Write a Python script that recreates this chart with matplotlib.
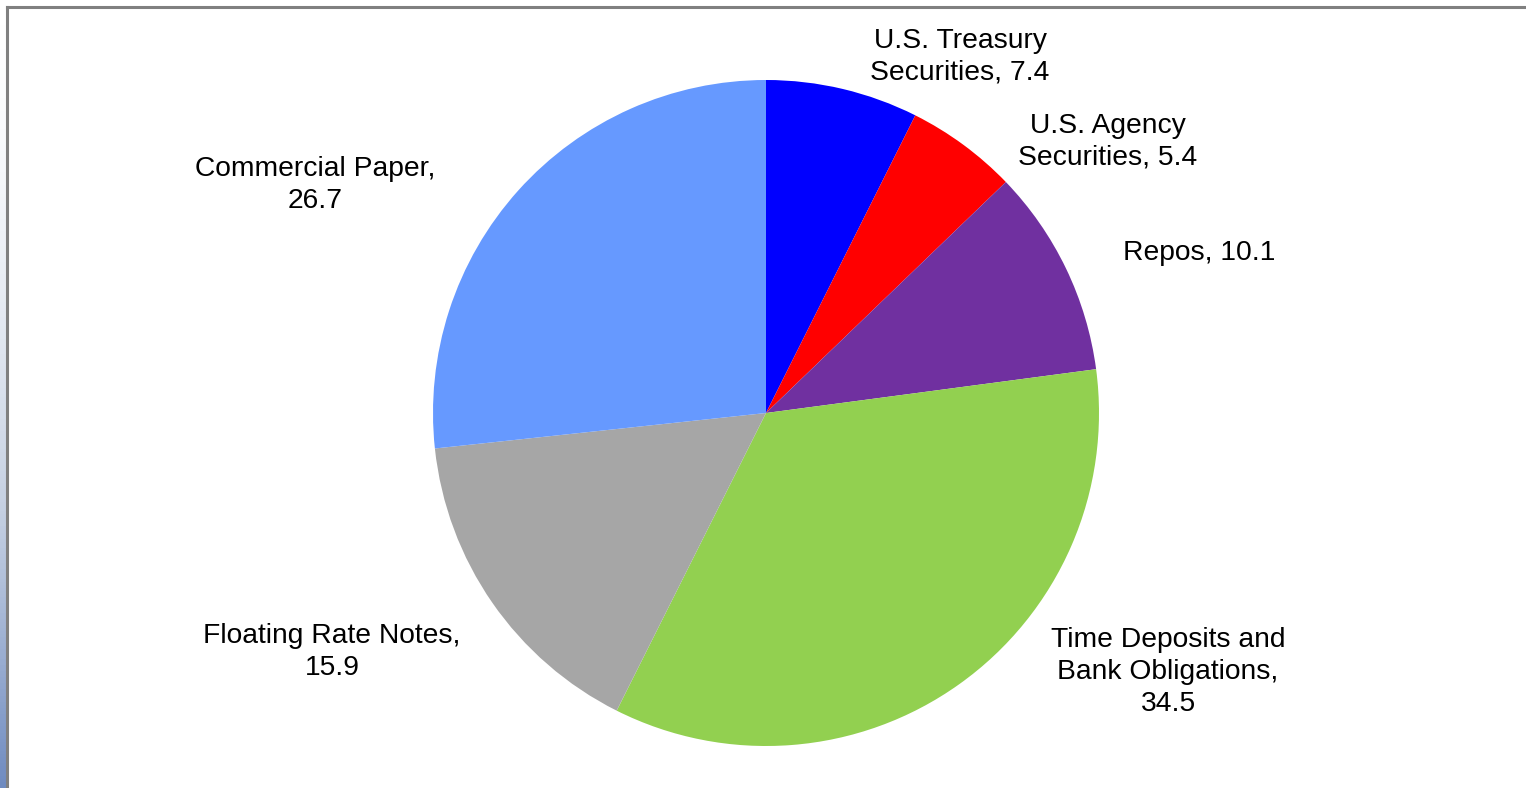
import numpy as np
import matplotlib.pyplot as plt
from matplotlib.colors import LinearSegmentedColormap

plt.rcParams['font.family'] = ['Liberation Sans', 'DejaVu Sans']

categories = ["U.S. Treasury\nSecurities", "U.S. Agency\nSecurities", "Repos",
              "Time Deposits and\nBank Obligations,\n", "Floating Rate Notes,\n",
              "Commercial Paper,\n"]
values = [7.4, 5.4, 10.1, 34.5, 15.9, 26.7]
colors = ["#0000FF", "#FF0000", "#7030A0", "#92D050", "#A6A6A6", "#6699FF"]

W, H = 1526, 788
fig = plt.figure(figsize=(W / 100, H / 100), dpi=100)
fig.patch.set_facecolor("white")

# left gradient strip
gax = fig.add_axes([0, 0, 6 / W, 1])
grad = np.linspace(0, 1, 256).reshape(-1, 1) ** 1.6
cmap = LinearSegmentedColormap.from_list("strip", ["#FFFFFF", "#C5D0E2", "#6F8BC0"])
gax.imshow(grad, aspect="auto", cmap=cmap, origin="upper")
gax.axis("off")

ax = fig.add_axes([0, 0, 1, 1])
cx, cy, r = 766, H - 413, 333
wedges, _ = ax.pie(values, colors=colors, startangle=90, counterclock=False,
                   center=(cx, cy), radius=r, frame=True,
                   wedgeprops=dict(linewidth=0))
ax.set_xlim(0, W)
ax.set_ylim(0, H)
ax.set_aspect("equal")
ax.axis("off")

# label text, placed beside each slice
label_pos = [(960, 57), (1108, 142), (1199, 253), (1168, 672), (332, 652), (315, 185)]
for name, v, (lx, ly) in zip(categories, values, label_pos):
    if name.endswith("\n"):
        txt = f"{name}{v}"
    else:
        txt = f"{name}, {v}"
    ax.text(lx, H - ly, txt, ha="center", va="center", fontsize=20.3,
            linespacing=1.29, color="black")

# border lines
ax.plot([6.5, 6.5], [0, H - 6.5], color="#808080", lw=2.2, clip_on=False)
ax.plot([6.5, W], [H - 6.5, H - 6.5], color="#808080", lw=2.2, clip_on=False)

fig.savefig("out.png", dpi=100)
